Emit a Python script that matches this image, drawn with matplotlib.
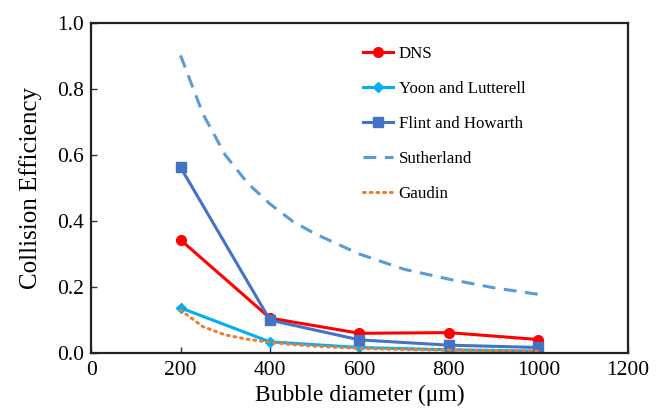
import numpy as np
from matplotlib import pyplot as plt

plt.rcParams['font.family'] = ['Liberation Serif', 'DejaVu Serif']

# bubble diameter (um)
d = [200, 400, 600, 800, 1000]
dns = [0.343, 0.106, 0.060, 0.062, 0.041]
yoon = [0.137, 0.034, 0.017, 0.010, 0.006]
flint = [0.563, 0.100, 0.040, 0.024, 0.017]

d_fine = [200, 250, 300, 350, 400, 450, 500, 600, 700, 800, 900, 1000]
sutherland = [0.902, 0.725, 0.600, 0.515, 0.452, 0.400, 0.362, 0.300, 0.254, 0.224, 0.198, 0.178]
gaudin = [0.130, 0.080, 0.055, 0.042, 0.033, 0.026, 0.021, 0.014, 0.011, 0.009, 0.007, 0.006]

fig = plt.figure(figsize=(6.65, 4.12), dpi=100)
ax = fig.add_axes([0.137, 0.143, 0.807, 0.801])

ax.plot(d, dns, color='#FF0000', lw=2.2, marker='o', ms=7, label='DNS')
ax.plot(d, yoon, color='#00B0F0', lw=2.2, marker='D', ms=5, label='Yoon and Lutterell')
ax.plot(d, flint, color='#4472C4', lw=2.2, marker='s', ms=7, label='Flint and Howarth')
ax.plot(d_fine, sutherland, color='#5B9BD5', lw=2.2, ls=(0, (4.2, 2.8)), label='Sutherland')
ax.plot(d_fine, gaudin, color='#ED7D31', lw=2.2, ls=(0, (0.6, 1.6)), dash_capstyle='round', label='Gaudin')

ax.set_xlim(0, 1200)
ax.set_ylim(0, 1.0)
ax.set_xticks(np.arange(0, 1201, 200))
ax.set_yticks(np.arange(0, 1.01, 0.2))
ax.set_yticklabels(['%.1f' % v for v in np.arange(0, 1.01, 0.2)])
ax.tick_params(direction='in', length=4, width=1, labelsize=15.5, color='#333333')
ax.tick_params(axis='x', pad=6)
ax.tick_params(axis='y', pad=5)
for s in ax.spines.values():
    s.set_linewidth(1.6)
    s.set_color('#222222')
ax.set_xlabel('Bubble diameter (μm)', fontsize=17, labelpad=3)
ax.set_ylabel('Collision Efficiency', fontsize=18, labelpad=11)

ax.legend(loc='upper left', bbox_to_anchor=(0.494, 0.952), frameon=False, fontsize=12.2,
          handlelength=1.8, handletextpad=0.3, labelspacing=1.12, borderaxespad=0)

plt.savefig('out.png', dpi=100)
